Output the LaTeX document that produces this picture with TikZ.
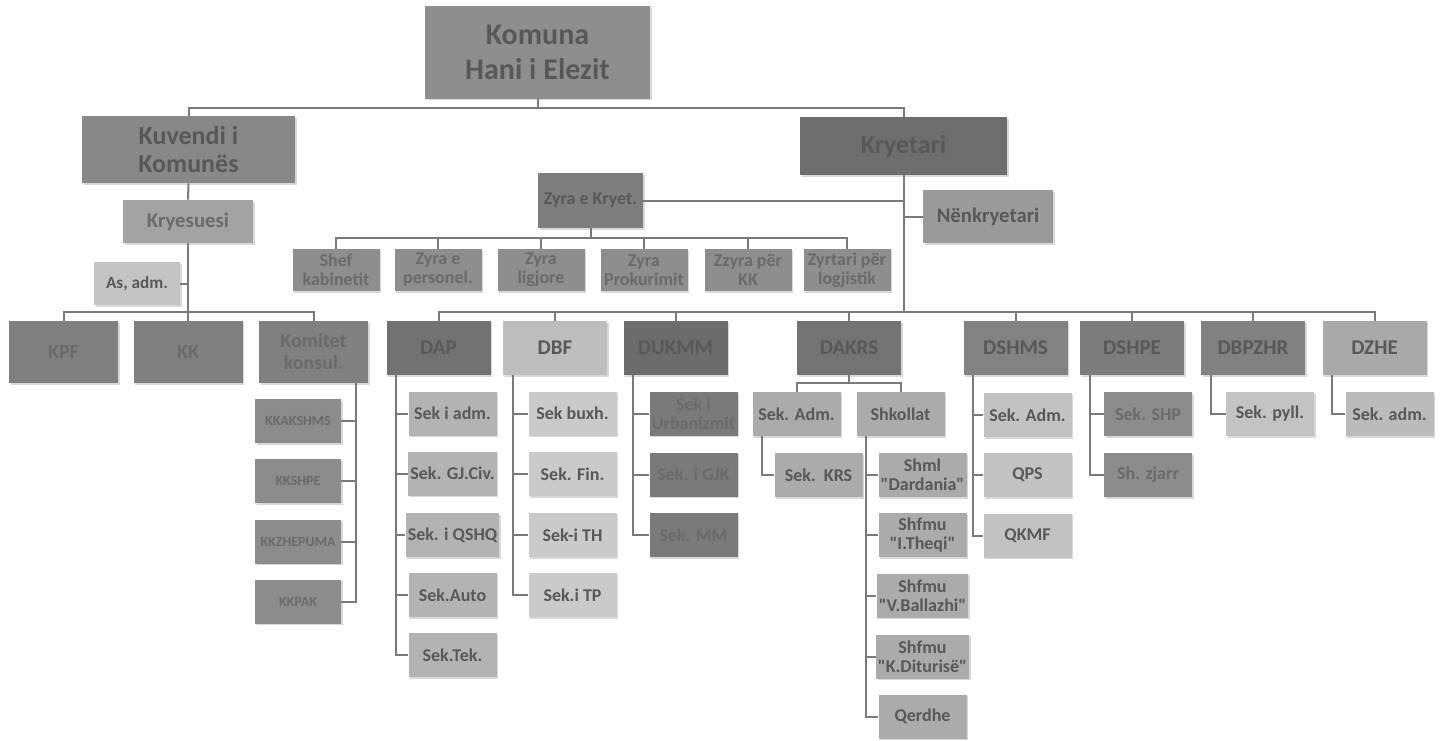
\documentclass[tikz,border=0pt]{standalone}
\usepackage{fontspec}
\setmainfont{Carlito}
\usepackage{tikz}
\usetikzlibrary{shadows}

\definecolor{ink}{HTML}{585858}
\definecolor{paleink}{HTML}{6A6A6A}
\definecolor{wire}{HTML}{7A7A7A}
\definecolor{gKomuna}{HTML}{8E8E8E}
\definecolor{gKuvendi}{HTML}{888888}
\definecolor{gKryetari}{HTML}{6E6E6E}
\definecolor{gZyra}{HTML}{7E7E7E}
\definecolor{gNenkr}{HTML}{9A9A9A}
\definecolor{gKryes}{HTML}{A3A3A3}
\definecolor{gAsadm}{HTML}{C4C4C4}
\definecolor{gCouncil}{HTML}{808080}
\definecolor{gKKsub}{HTML}{8C8C8C}
\definecolor{gOffice}{HTML}{8E8E8E}
\definecolor{gDAP}{HTML}{727272}
\definecolor{gDBF}{HTML}{BDBDBD}
\definecolor{gDUKMM}{HTML}{6C6C6C}
\definecolor{gDAKRS}{HTML}{737373}
\definecolor{gDSHMS}{HTML}{828282}
\definecolor{gDSHPE}{HTML}{7C7C7C}
\definecolor{gDBPZHR}{HTML}{818181}
\definecolor{gDZHE}{HTML}{A9A9A9}
\definecolor{sDAP}{HTML}{B3B3B3}
\definecolor{sDBF}{HTML}{CACACA}
\definecolor{sDUKMM}{HTML}{7A7A7A}
\definecolor{sDAKRS}{HTML}{ABABAB}
\definecolor{sDSHMS}{HTML}{C2C2C2}
\definecolor{sDSHPE}{HTML}{8C8C8C}
\definecolor{sDBPZHR}{HTML}{C3C3C3}
\definecolor{sDZHE}{HTML}{BBBBBB}

\newcommand{\qq}[1]{\textquotedbl#1\textquotedbl}

\begin{document}
\begin{tikzpicture}[
  x=0.5pt, y=-0.5pt,
  box/.style={fill=#1, text=ink, align=center, inner sep=1pt,
    drop shadow={shadow xshift=0.8pt, shadow yshift=-0.8pt, fill=black!30}},
  head/.style={box=#1, font=\bfseries\fontsize{13}{14}\selectfont},
  mid/.style={box=#1, font=\bfseries\fontsize{10.4}{11}\selectfont},
  office/.style={box=gOffice, text=paleink, minimum width=43.5pt, minimum height=21pt, font=\bfseries\fontsize{9}{9.5}\selectfont},
  council/.style={box=gCouncil, text=paleink, minimum width=54.5pt, minimum height=31pt, font=\bfseries\fontsize{10}{11}\selectfont},
  kksub/.style={box=gKKsub, text=paleink, minimum width=43pt, minimum height=22pt, font=\bfseries\fontsize{7}{8}\selectfont},
  dir/.style={box=#1, minimum width=52pt, minimum height=27pt, font=\bfseries\fontsize{10.5}{11}\selectfont},
  sub/.style={box=#1, minimum width=44pt, minimum height=22pt, font=\bfseries\fontsize{9}{9.5}\selectfont},
  link/.style={draw=wire, line width=1pt}
]
\path[use as bounding box, fill=white] (0,0) rectangle (1444,740);

\node[box=gKomuna, minimum width=112.5pt, minimum height=46.5pt, font=\bfseries\fontsize{15}{17.5}\selectfont] (komuna) at (537.5,52) {Komuna\\Hani i Elezit};
\node[head=gKuvendi, minimum width=106.5pt, minimum height=33.5pt] (kuvendi) at (188.5,149.5) {Kuvendi i\\Komunës};
\node[head=gKryetari, minimum width=103.5pt, minimum height=29pt] (kryetari) at (903.5,146) {Kryetari};
\node[mid=gKryes, text=paleink, minimum width=65pt, minimum height=21.5pt] (kryesuesi) at (188,221.5) {Kryesuesi};
\node[mid=gAsadm, minimum width=43pt, minimum height=21.5pt, font=\bfseries\fontsize{8.6}{9}\selectfont] (asadm) at (137,283.5) {As, adm.};
\node[mid=gZyra, minimum width=52.5pt, minimum height=27.5pt, font=\bfseries\fontsize{9}{9.5}\selectfont] (zyra) at (590.5,200.5) {Zyra e Kryet.};
\node[mid=gNenkr, minimum width=65pt, minimum height=26.5pt] (nenkryetari) at (988,216.5) {Nënkryetari};

\node[office] (shef) at (336,270) {Shef\\kabinetit};
\node[office] (personel) at (438,270) {Zyra e\\personel.};
\node[office] (ligjore) at (541,270) {Zyra\\ligjore};
\node[office] (prokurimit) at (644,270) {Zyra\\Prokurimit};
\node[office] (perkk) at (748,270) {Zzyra për\\KK};
\node[office] (logjistik) at (847,270) {Zyrtari për\\logjistik};

\node[council] (kpf) at (63.5,352) {KPF};
\node[council] (kk) at (188,352) {KK};
\node[council] (komitet) at (313.5,352) {Komitet\\konsul.};
\node[kksub] (kkakshms) at (298,421) {KKAKSHMS};
\node[kksub] (kkshpe) at (298,481) {KKSHPE};
\node[kksub] (kkzhepuma) at (298,541.5) {KKZHEPUMA};
\node[kksub] (kkpak) at (298,601.5) {KKPAK};

\node[dir=gDAP] (dap) at (438.5,348) {DAP};
\node[dir=gDBF] (dbf) at (555,348) {DBF};
\node[dir=gDUKMM] (dukmm) at (675.5,348) {DUKMM};
\node[dir=gDAKRS] (dakrs) at (849,348) {DAKRS};
\node[dir=gDSHMS] (dshms) at (1015.5,348) {DSHMS};
\node[dir=gDSHPE] (dshpe) at (1132,348) {DSHPE};
\node[dir=gDBPZHR] (dbpzhr) at (1253,348) {DBPZHR};
\node[dir=gDZHE] (dzhe) at (1374.5,348) {DZHE};

\node[sub=sDAP] (dapadm) at (452.5,413.5) {Sek i adm.};
\node[sub=sDAP] (dapgjciv) at (452.5,473.5) {Sek. GJ.Civ.};
\node[sub=sDAP] (dapqshq) at (452.5,535) {Sek. i QSHQ};
\node[sub=sDAP] (dapauto) at (452.5,595) {Sek.Auto};
\node[sub=sDAP] (daptek) at (452.5,655) {Sek.Tek.};

\node[sub=sDBF] (dbfbuxh) at (572.5,413.5) {Sek buxh.};
\node[sub=sDBF] (dbffin) at (572.5,474) {Sek. Fin.};
\node[sub=sDBF] (dbfth) at (572.5,535) {Sek-i TH};
\node[sub=sDBF] (dbftp) at (572.5,595) {Sek.i TP};

\node[sub=sDUKMM, text=paleink] (dukurb) at (693.5,413.5) {Sek i\\Urbanizmit};
\node[sub=sDUKMM, text=paleink] (dukgjk) at (693.5,474.5) {Sek. i GJK};
\node[sub=sDUKMM, text=paleink] (dukmmsek) at (693.5,535) {Sek. MM};

\node[sub=sDAKRS] (akadm) at (796.5,414) {Sek. Adm.};
\node[sub=sDAKRS] (shkollat) at (900.5,414) {Shkollat};
\node[sub=sDAKRS] (krs) at (818.5,475) {Sek.~~KRS};
\node[sub=sDAKRS] (dardania) at (922.5,475) {Shml\\\qq{Dardania}};
\node[sub=sDAKRS] (theqi) at (922.5,535) {Shfmu\\\qq{I.Theqi}};
\node[sub=sDAKRS] (ballazhi) at (922.5,595.5) {Shfmu\\\qq{V.Ballazhi}};
\node[sub=sDAKRS] (diturise) at (922.5,656.5) {Shfmu\\\qq{K.Diturisë}};
\node[sub=sDAKRS] (qerdhe) at (922.5,716.5) {Qerdhe};

\node[sub=sDSHMS] (shmsadm) at (1027.5,415) {Sek. Adm.};
\node[sub=sDSHMS] (qps) at (1027.5,475) {QPS};
\node[sub=sDSHMS] (qkmf) at (1027.5,535.5) {QKMF};

\node[sub=sDSHPE, text=paleink] (shp) at (1148,414) {Sek. SHP};
\node[sub=sDSHPE, text=paleink] (zjarr) at (1148,475) {Sh. zjarr};

\node[sub=sDBPZHR] (pyll) at (1270,414) {Sek. pyll.};
\node[sub=sDZHE] (zheadm) at (1389.5,414) {Sek. adm.};

\coordinate (topbar) at (537.5,108);
\coordinate (councilbar) at (188,312);
\coordinate (officebar) at (590.5,238);
\coordinate (dirbar) at (903.5,312);
\coordinate (akrsbar) at (849,383);

\draw[link] (komuna.south) -- (komuna.south |- topbar) -| (kuvendi.north);
\draw[link] (komuna.south |- topbar) -| (kryetari.north);
\draw[link] (kuvendi.south) -- (kryesuesi.north);
\draw[link] (kryesuesi.south) -- (kryesuesi.south |- councilbar);
\draw[link] (asadm.east) -- (asadm.east -| kryesuesi.south);
\draw[link] (kpf.north) -- (kpf.north |- councilbar) -| (komitet.north);
\draw[link] (kk.north) -- (kk.north |- councilbar);
\draw[link] ([xshift=-6pt]komitet.south east) |- (kkakshms.east);
\draw[link] ([xshift=-6pt]komitet.south east) |- (kkshpe.east);
\draw[link] ([xshift=-6pt]komitet.south east) |- (kkzhepuma.east);
\draw[link] ([xshift=-6pt]komitet.south east) |- (kkpak.east);

\draw[link] (kryetari.south) -- (kryetari.south |- dirbar);
\draw[link] (zyra.east) -- (zyra.east -| kryetari.south);
\draw[link] (nenkryetari.west) -- (nenkryetari.west -| kryetari.south);
\draw[link] (zyra.south) -- (zyra.south |- officebar);
\draw[link] (shef.north) -- (shef.north |- officebar) -| (logjistik.north);
\draw[link] (personel.north) -- (personel.north |- officebar);
\draw[link] (ligjore.north) -- (ligjore.north |- officebar);
\draw[link] (prokurimit.north) -- (prokurimit.north |- officebar);
\draw[link] (perkk.north) -- (perkk.north |- officebar);

\draw[link] (dap.north) -- (dap.north |- dirbar) -| (dzhe.north);
\draw[link] (dbf.north) -- (dbf.north |- dirbar);
\draw[link] (dukmm.north) -- (dukmm.north |- dirbar);
\draw[link] (dakrs.north) -- (dakrs.north |- dirbar);
\draw[link] (dshms.north) -- (dshms.north |- dirbar);
\draw[link] (dshpe.north) -- (dshpe.north |- dirbar);
\draw[link] (dbpzhr.north) -- (dbpzhr.north |- dirbar);

\draw[link] ([xshift=5pt]dap.south west) |- (dapadm.west);
\draw[link] ([xshift=5pt]dap.south west) |- (dapgjciv.west);
\draw[link] ([xshift=5pt]dap.south west) |- (dapqshq.west);
\draw[link] ([xshift=5pt]dap.south west) |- (dapauto.west);
\draw[link] ([xshift=5pt]dap.south west) |- (daptek.west);
\draw[link] ([xshift=5pt]dbf.south west) |- (dbfbuxh.west);
\draw[link] ([xshift=5pt]dbf.south west) |- (dbffin.west);
\draw[link] ([xshift=5pt]dbf.south west) |- (dbfth.west);
\draw[link] ([xshift=5pt]dbf.south west) |- (dbftp.west);
\draw[link] ([xshift=5pt]dukmm.south west) |- (dukurb.west);
\draw[link] ([xshift=5pt]dukmm.south west) |- (dukgjk.west);
\draw[link] ([xshift=5pt]dukmm.south west) |- (dukmmsek.west);

\draw[link] (dakrs.south) -- (dakrs.south |- akrsbar);
\draw[link] (akadm.north) -- (akadm.north |- akrsbar) -| (shkollat.north);
\draw[link] ([xshift=5pt]akadm.south west) |- (krs.west);
\draw[link] ([xshift=5pt]shkollat.south west) |- (dardania.west);
\draw[link] ([xshift=5pt]shkollat.south west) |- (theqi.west);
\draw[link] ([xshift=5pt]shkollat.south west) |- (ballazhi.west);
\draw[link] ([xshift=5pt]shkollat.south west) |- (diturise.west);
\draw[link] ([xshift=5pt]shkollat.south west) |- (qerdhe.west);

\draw[link] ([xshift=5pt]dshms.south west) |- (shmsadm.west);
\draw[link] ([xshift=5pt]dshms.south west) |- (qps.west);
\draw[link] ([xshift=5pt]dshms.south west) |- (qkmf.west);
\draw[link] ([xshift=5pt]dshpe.south west) |- (shp.west);
\draw[link] ([xshift=5pt]dshpe.south west) |- (zjarr.west);
\draw[link] ([xshift=5pt]dbpzhr.south west) |- (pyll.west);
\draw[link] ([xshift=5pt]dzhe.south west) |- (zheadm.west);
\end{tikzpicture}
\end{document}
